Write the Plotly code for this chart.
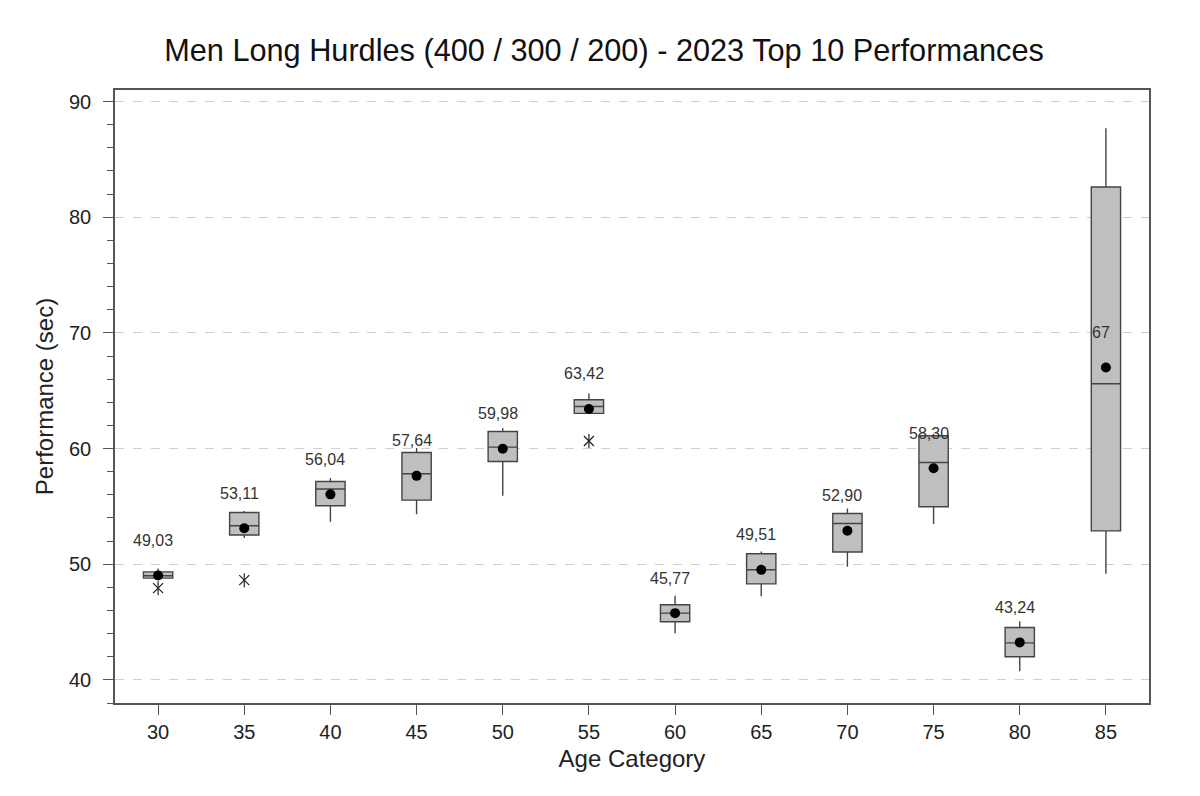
import plotly.graph_objects as go

categories = ["30", "35", "40", "45", "50", "55", "60", "65", "70", "75", "80", "85"]
q1 = [48.80, 52.52, 55.05, 55.54, 58.88, 63.04, 45.02, 48.30, 51.05, 54.97, 42.00, 52.88]
median = [49.00, 53.32, 56.50, 57.82, 60.12, 63.64, 45.77, 49.52, 53.52, 58.80, 43.20, 65.60]
q3 = [49.34, 54.47, 57.15, 59.66, 61.48, 64.22, 46.49, 50.90, 54.39, 61.10, 44.53, 82.61]
lower_whisker = [48.80, 52.26, 53.67, 54.33, 55.92, 63.04, 44.04, 47.24, 49.78, 53.47, 40.74, 49.17]
upper_whisker = [49.63, 54.60, 57.45, 60.04, 61.78, 64.77, 47.27, 51.10, 54.82, 61.28, 45.05, 87.70]
means = [49.03, 53.11, 56.04, 57.64, 59.98, 63.42, 45.77, 49.51, 52.90, 58.30, 43.24, 67.0]
mean_labels = ["49,03", "53,11", "56,04", "57,64", "59,98", "63,42", "45,77", "49,51", "52,90", "58,30", "43,24", "67"]
outlier_cats = ["30", "35", "55"]
outlier_vals = [47.93, 48.62, 60.65]

y_ticks = [40, 50, 60, 70, 80, 90]

font_family = "Liberation Sans, Arial, sans-serif"
edge = "#444444"

fig = go.Figure()

fig.add_trace(go.Box(
    x=categories,
    q1=q1, median=median, q3=q3,
    lowerfence=lower_whisker, upperfence=upper_whisker,
    boxpoints=False,
    width=0.34,
    whiskerwidth=0,
    fillcolor="#BFBFBF",
    line=dict(color=edge, width=1.4),
    showlegend=False,
    hoverinfo="skip",
))

for sym in ["x-thin-open", "line-ns-open"]:
    fig.add_trace(go.Scatter(
        x=outlier_cats, y=outlier_vals,
        mode="markers",
        marker=dict(symbol=sym, size=10, color="#222222",
                    line=dict(color="#222222", width=1.2)),
        showlegend=False,
        hoverinfo="skip",
    ))

fig.add_trace(go.Scatter(
    x=categories, y=means,
    mode="markers",
    marker=dict(symbol="circle", size=10, color="black"),
    showlegend=False,
    hoverinfo="skip",
))

for i, (m, lab) in enumerate(zip(means, mean_labels)):
    fig.add_annotation(
        x=i, y=m, xref="x", yref="y", text=lab, showarrow=False,
        xshift=-5, yshift=35,
        font=dict(family=font_family, size=16, color="#333333"),
    )

fig.update_layout(
    width=1192, height=788,
    paper_bgcolor="white", plot_bgcolor="white",
    margin=dict(l=107, r=51, t=82, b=93),
    title=dict(
        text="Men Long Hurdles (400 / 300 / 200) - 2023 Top 10 Performances",
        x=0.5, xanchor="center", xref="container",
        y=0.947, yanchor="middle", yref="container",
        font=dict(family=font_family, size=30.7, color="#111111"),
    ),
    font=dict(family=font_family, color="#222222"),
)

fig.update_xaxes(
    type="category",
    range=[-0.5, 11.5],
    title=dict(text="Age Category", font=dict(size=24, color="#222222"), standoff=8),
    tickfont=dict(size=20, color="#222222"),
    ticks="outside", ticklen=10, tickcolor="#555555", tickwidth=1.2,
    showline=True, linecolor="#555555", linewidth=1.5, mirror=True,
    showgrid=False, zeroline=False,
)

fig.update_yaxes(
    range=[38, 91],
    tickvals=y_ticks,
    title=dict(text="Performance (sec)", font=dict(size=24, color="#222222"), standoff=9),
    tickfont=dict(size=20, color="#222222"),
    ticklabelstandoff=8,
    ticks="outside", ticklen=10, tickcolor="#555555", tickwidth=1.2,
    minor=dict(dtick=2, tick0=0, ticks="outside", ticklen=6, tickcolor="#555555", showgrid=False),
    showline=True, linecolor="#555555", linewidth=1.5, mirror=True,
    showgrid=True, gridcolor="#CFCFCF", griddash="dash", gridwidth=1,
    zeroline=False,
)

fig.write_html("out.html")
